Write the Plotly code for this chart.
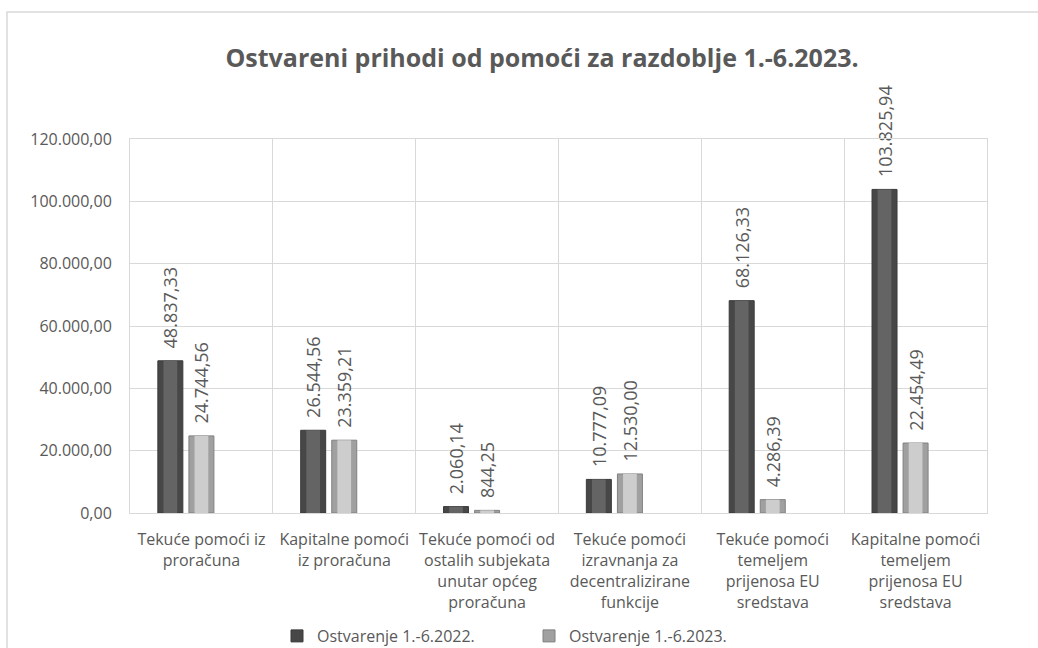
import plotly.graph_objects as go

categories = [
    "Tekuće pomoći iz<br>proračuna",
    "Kapitalne pomoći<br>iz proračuna",
    "Tekuće pomoći od<br>ostalih subjekata<br>unutar općeg<br>proračuna",
    "Tekuće pomoći<br>izravnanja za<br>decentralizirane<br>funkcije",
    "Tekuće pomoći<br>temeljem<br>prijenosa EU<br>sredstava",
    "Kapitalne pomoći<br>temeljem<br>prijenosa EU<br>sredstava",
]
series_names = ["Ostvarenje 1.-6.2022.", "Ostvarenje 1.-6.2023."]
values_2022 = [48837.33, 26544.56, 2060.14, 10777.09, 68126.33, 103825.94]
values_2023 = [24744.56, 23359.21, 844.25, 12530.00, 4286.39, 22454.49]
y_tick_values = [0, 20000, 40000, 60000, 80000, 100000, 120000]

TEXT = "#595959"
GRID = "#d9d9d9"
FONT = "Open Sans"

W, H = 1038, 648
L, R, T, B = 130, 51, 139, 135
pw, ph = W - L - R, H - T - B

bar_w = 0.175
offsets = [-0.305, -0.0875]
base_cols = ["#474747", "#a0a0a0"]
mid_cols = ["#646464", "#cdcdcd"]
edge_cols = ["#3a3a3a", "#808080"]

fig = go.Figure()
for i, (name, vals) in enumerate(zip(series_names, [values_2022, values_2023])):
    fig.add_trace(go.Bar(
        x=categories, y=vals, name=name,
        offset=offsets[i], width=bar_w,
        marker=dict(color=base_cols[i], line=dict(color=edge_cols[i], width=1)),
        texttemplate="\u00a0\u00a0%{y:,.2f}",
        textposition="outside", textangle=-90, cliponaxis=False,
        constraintext="none",
        textfont=dict(family=FONT, size=18, color=TEXT),
        hoverinfo="skip",
    ))
    inner = bar_w * 0.55
    fig.add_trace(go.Bar(
        x=categories, y=vals, showlegend=False,
        offset=offsets[i] + (bar_w - inner) / 2, width=inner,
        marker=dict(color=mid_cols[i], line=dict(width=0)),
        hoverinfo="skip",
    ))

# outer chart border
fig.add_shape(type="rect", xref="paper", yref="paper",
              x0=(7 - L) / pw, x1=(1045 - L) / pw,
              y0=(H - B - 660) / ph, y1=(H - B - 12) / ph,
              line=dict(color=GRID, width=1.5), fillcolor="rgba(0,0,0,0)", layer="below")

fig.update_layout(
    width=W, height=H,
    margin=dict(l=L, r=R, t=T, b=B, autoexpand=False),
    paper_bgcolor="white", plot_bgcolor="white",
    separators=",.",
    barmode="overlay",
    font=dict(family=FONT, color=TEXT, size=16),
    title=dict(
        text="<b>Ostvareni prihodi od pomoći za razdoblje 1.-6.2023.</b>",
        x=542 / W, xanchor="center", xref="container",
        y=1 - 58 / H, yanchor="middle", yref="container",
        font=dict(family=FONT, size=25, color=TEXT),
    ),
    xaxis=dict(
        type="category", tickson="boundaries", showgrid=True, gridcolor=GRID, gridwidth=1,
        showline=True, linecolor=GRID, linewidth=1, mirror=True, ticks="",
        tickangle=0, automargin=False,
        tickfont=dict(family=FONT, size=16, color=TEXT), ticklabelstandoff=12,
        range=[-0.5, 5.5], fixedrange=True,
    ),
    yaxis=dict(
        range=[0, 120000], tickvals=y_tick_values, tickformat=",.2f",
        showgrid=True, gridcolor=GRID, gridwidth=1,
        showline=True, linecolor=GRID, linewidth=1, mirror=True, ticks="",
        zeroline=False, automargin=False,
        tickfont=dict(family=FONT, size=16, color=TEXT), ticklabelstandoff=14,
    ),
    legend=dict(
        orientation="h", x=(277 - L) / pw, xanchor="left",
        y=(H - B - 619) / ph, yanchor="top",
        font=dict(family=FONT, size=16, color=TEXT),
        entrywidth=207, entrywidthmode="pixels",
        itemclick=False, bgcolor="rgba(0,0,0,0)",
    ),
    showlegend=True,
)

fig.write_html("out.html", config={"displayModeBar": False},
               post_script="document.body.style.margin='0';document.body.style.overflow='hidden';")
